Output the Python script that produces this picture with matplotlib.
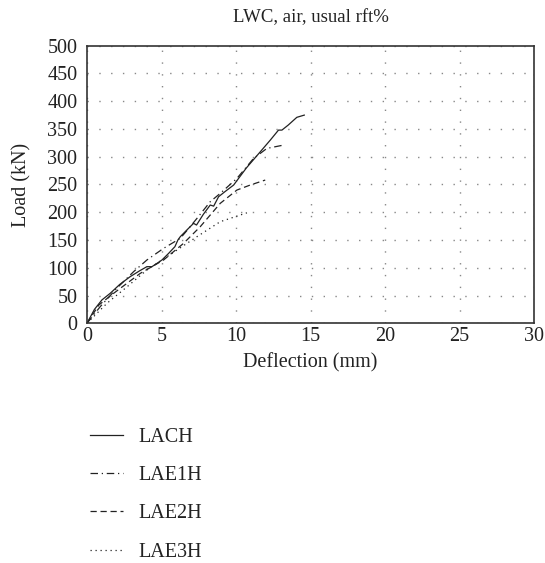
import matplotlib
matplotlib.use('Agg')
from matplotlib import pyplot as plt
import numpy as np

plt.rcParams['font.family'] = ['Liberation Serif', 'DejaVu Serif']

title = 'LWC, air, usual rft%'
xlabel = 'Deflection (mm)'
ylabel = 'Load (kN)'

# (mm, kN)
lach_x = [0, 0.5, 1.0, 1.56, 2.2, 2.9, 3.5, 4.02, 4.36, 4.7, 5.03, 5.48, 5.9, 6.1, 6.26, 6.7, 7.15, 7.35, 7.8, 8.27, 8.5, 8.83, 9.3, 9.84, 10.7, 11.63, 12.3, 12.85, 13.08, 13.5, 14.08, 14.58]
lach_y = [0, 25, 42, 54, 70, 84, 94, 102, 102, 108, 114, 126, 138, 150, 156, 168, 180, 177, 196, 213, 211, 228, 238, 249, 280, 309, 330, 348, 348, 357, 371, 375]

lae1_x = [0, 0.89, 2.0, 3.13, 4.02, 5.14, 6.26, 6.8, 7.38, 8.27, 8.94, 10.06, 11.18, 12.07, 13.19]
lae1_y = [0, 30, 63, 93, 114, 135, 153, 170, 189, 219, 234, 261, 297, 315, 321]

lae2_x = [0, 0.8, 1.79, 3.58, 5.14, 6.48, 7.6, 8.94, 10.06, 10.95, 11.96]
lae2_y = [0, 33, 54, 90, 114, 144, 174, 216, 240, 249, 258]

lae3_x = [0, 1.34, 2.7, 4.02, 5.37, 7.38, 8.94, 10.73]
lae3_y = [0, 36, 66, 96, 120, 156, 183, 199]

fig = plt.figure(figsize=(5.45, 5.63), dpi=100)
ax = fig.add_axes([0.1596, 0.4258, 0.8204, 0.493])

ax.plot(lach_x, lach_y, color='#222222', lw=0.9, ls='-', label='LACH')
ax.plot(lae1_x, lae1_y, color='#222222', lw=0.9, ls=(0, (6, 3, 1, 3)), label='LAE1H')
ax.plot(lae2_x, lae2_y, color='#222222', lw=0.9, ls=(0, (5, 3)), label='LAE2H')
ax.plot(lae3_x, lae3_y, color='#222222', lw=0.9, ls=(0, (1, 3)), label='LAE3H')

ax.set_xlim(0, 30)
ax.set_ylim(0, 500)
ax.set_xticks(np.arange(0, 31, 5))
ax.set_yticks(np.arange(0, 501, 50))
ax.grid(True, color='#888888', ls=(0, (1, 7.5)), lw=1.0)
ax.tick_params(length=0, labelsize=14.5, colors='#222222')
ax.tick_params(axis='x', pad=3)
ax.tick_params(axis='y', pad=7)
for s in ax.spines.values():
    s.set_color('#333333')
    s.set_linewidth(1.2)

ax.set_title(title, fontsize=13.5, color='#222222', pad=17)
ax.set_xlabel(xlabel, fontsize=14.5, color='#222222', labelpad=5)
ax.set_ylabel(ylabel, fontsize=14.5, color='#222222', labelpad=11)

fig.legend(loc='upper left', bbox_to_anchor=(0.147, 0.258), bbox_transform=fig.transFigure,
           frameon=False, fontsize=14.5, handlelength=1.65, labelspacing=0.95,
           handletextpad=0.75, labelcolor='#222222', borderpad=0)

fig.savefig('out.png', dpi=100)
